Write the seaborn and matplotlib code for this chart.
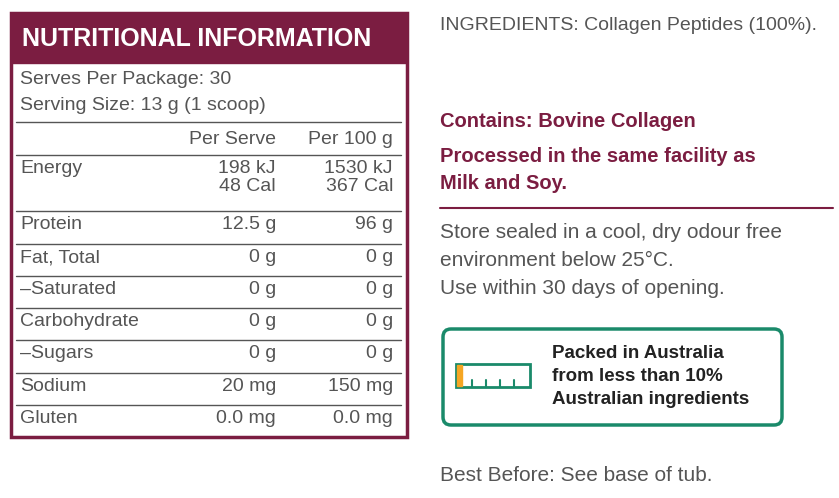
import matplotlib
matplotlib.use("Agg")
import matplotlib.pyplot as plt
import seaborn as sns
from matplotlib.patches import Rectangle, FancyBboxPatch

sns.set_theme(style="white")
plt.rcParams['font.family'] = ['Liberation Sans', 'DejaVu Sans']

nutrients = ["Energy", "Protein", "Fat, Total", "\u2013Saturated", "Carbohydrate", "\u2013Sugars", "Sodium", "Gluten"]
per_serve = ["198 kJ\n48 Cal", "12.5 g", "0 g", "0 g", "0 g", "0 g", "20 mg", "0.0 mg"]
per_100g = ["1530 kJ\n367 Cal", "96 g", "0 g", "0 g", "0 g", "0 g", "150 mg", "0.0 mg"]
row_tops = [155, 211, 244, 276, 308, 340, 373, 405]

MAROON = "#7b1d41"
GREY = "#555555"
fig = plt.figure(figsize=(8.39, 4.98), dpi=100)
ax = fig.add_axes([0, 0, 1, 1])
ax.set_xlim(0, 839); ax.set_ylim(498, 0); ax.axis("off")

ax.add_patch(Rectangle((11, 13), 396, 424, fill=False, ec=MAROON, lw=2.5))
ax.add_patch(Rectangle((11, 13), 396, 50, color=MAROON))
ax.text(22, 39, "NUTRITIONAL INFORMATION", color="white", fontsize=18, fontweight="bold", va="center")
fs = 14
ax.text(20, 79, "Serves Per Package: 30", fontsize=fs, color=GREY, va="center")
ax.text(20, 105, "Serving Size: 13 g (1 scoop)", fontsize=fs, color=GREY, va="center")
ax.plot([16, 401], [122, 122], color=GREY, lw=1)
ax.text(276, 139, "Per Serve", fontsize=fs, color=GREY, va="center", ha="right")
ax.text(393, 139, "Per 100 g", fontsize=fs, color=GREY, va="center", ha="right")
for name, a, b, top in zip(nutrients, per_serve, per_100g, row_tops):
    ax.plot([16, 401], [top, top], color=GREY, lw=1)
    ax.text(20, top + 5, name, fontsize=fs, color=GREY, va="top")
    ax.text(276, top + 5, a, fontsize=fs, color=GREY, va="top", ha="right", linespacing=1.05)
    ax.text(393, top + 5, b, fontsize=fs, color=GREY, va="top", ha="right", linespacing=1.05)

ax.text(440, 25, "INGREDIENTS: Collagen Peptides (100%).", fontsize=14, color=GREY, va="center")
ax.text(440, 121, "Contains: Bovine Collagen", fontsize=14.5, color=MAROON, fontweight="bold", va="center")
ax.text(440, 156, "Processed in the same facility as", fontsize=14.5, color=MAROON, fontweight="bold", va="center")
ax.text(440, 183, "Milk and Soy.", fontsize=14.5, color=MAROON, fontweight="bold", va="center")
ax.plot([440, 833], [208, 208], color=MAROON, lw=1.5)
for i, t in enumerate(["Store sealed in a cool, dry odour free", "environment below 25\u00b0C.", "Use within 30 days of opening."]):
    ax.text(440, 232 + 28 * i, t, fontsize=15, color=GREY, va="center")

GREEN = "#1a8a6a"
ax.add_patch(FancyBboxPatch((443, 329), 339, 96, boxstyle="round,pad=0,rounding_size=8", fill=False, ec=GREEN, lw=2.5))
ax.add_patch(Rectangle((456, 364), 74, 23, fill=False, ec=GREEN, lw=2))
ax.add_patch(Rectangle((457, 365), 5, 21, color="#f5a623"))
for x in [472, 486, 500, 514]:
    ax.plot([x, x], [380, 387], color=GREEN, lw=1.5)
for i, t in enumerate(["Packed in Australia", "from less than 10%", "Australian ingredients"]):
    ax.text(552, 353 + 23 * i, t, fontsize=13.5, color="#222222", fontweight="bold", va="center")

ax.text(440, 475, "Best Before: See base of tub.", fontsize=15, color=GREY, va="center")
fig.savefig("out.png", dpi=100)
